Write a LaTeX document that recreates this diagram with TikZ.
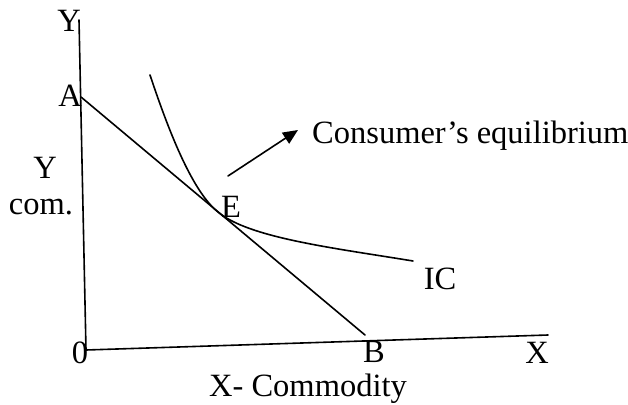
\documentclass[tikz,border=0pt]{standalone}
\usepackage{fontspec}
\setmainfont{Liberation Serif}
\usetikzlibrary{arrows.meta}
\begin{document}
\begin{tikzpicture}[x=1pt,y=-1pt,
  lbl/.style={anchor=base,inner sep=0pt,font=\fontsize{32.5}{38}\selectfont},
  ln/.style={line width=1.6pt,line cap=round}]
\useasboundingbox (0,0) rectangle (628,404);
% points
\coordinate (ytop) at (79,20);
\coordinate (O) at (86,350);
\coordinate (xend) at (548,335);
\coordinate (pA) at (81,97);
\coordinate (pB) at (365,335);
\coordinate (pE) at (218,212);
\coordinate (icS) at (150,75);
\coordinate (icT) at (413,261);
\coordinate (arS) at (228,176);
\coordinate (arT) at (298,130);
% axes
\draw[ln] (ytop) -- (O) -- (xend);
% budget line
\draw[ln] (pA) -- (pB);
% indifference curve
\draw[ln] (icS) .. controls (170,135) and (193,192) .. (pE)
  .. controls (249,238) and (334,248) .. (icT);
% arrow
\draw[ln,-{Triangle[length=15pt,width=13pt]}] (arS) -- (arT);
% labels
\node[lbl] (lY) at (69,32) {Y};
\node[lbl] (lA) at (70,106) {A};
\node[lbl] (lY2) at (45,178) {Y};
\node[lbl] (lcom) at (41,214) {com.};
\node[lbl] (lE) at (231,217) {E};
\node[lbl,anchor=base west] (lCE) at (312,143) {Consumer’s equilibrium};
\node[lbl] (lIC) at (440,289) {IC};
\node[lbl] (l0) at (80,363) {0};
\node[lbl] (lB) at (374,362) {B};
\node[lbl] (lX) at (537,363) {X};
\node[lbl] (lXC) at (308,396) {X- Commodity};
\end{tikzpicture}
\end{document}
